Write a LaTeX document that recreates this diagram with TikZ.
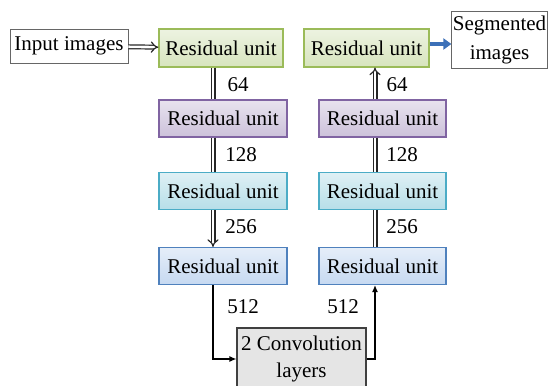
\documentclass[tikz,border=0pt]{standalone}
\usepackage{fontspec}
\setmainfont{Liberation Serif}
\usetikzlibrary{arrows.meta,positioning,calc}
\definecolor{grnfill}{HTML}{D7E4BD}
\definecolor{grnline}{HTML}{9BBB59}
\definecolor{purfill}{HTML}{CCC1DA}
\definecolor{purline}{HTML}{8064A2}
\definecolor{cyafill}{HTML}{B7DEE8}
\definecolor{cyaline}{HTML}{4BACC6}
\definecolor{blufill}{HTML}{C6D9F1}
\definecolor{bluline}{HTML}{4F81BD}
\definecolor{outarrow}{HTML}{3C70B8}
\tikzset
{
    unitnode/.style = {draw, align=center, inner sep=0pt, minimum height=37pt, line width=1.1pt},
    greenunit/.style = {unitnode, draw=grnline, top color=grnfill!45!white, bottom color=grnfill},
    purpleunit/.style = {unitnode, draw=purline, top color=purfill!45!white, bottom color=purfill},
    cyanunit/.style = {unitnode, draw=cyaline, top color=cyafill!45!white, bottom color=cyafill},
    blueunit/.style = {unitnode, draw=bluline, top color=blufill!45!white, bottom color=blufill},
    iobox/.style = {draw=black!60, align=center, inner sep=1pt, line width=0.9pt, fill=white},
    convbox/.style = {draw=black!75, align=center, inner sep=1pt, line width=1.1pt, fill=black!10},
    dblline/.style = {draw=black!85, double=white, double distance=2.6pt, line width=1.2pt},
    chanlabel/.style = {inner sep=0pt}
}

\begin{document}
\begin{tikzpicture}[x=1pt, y=1pt, font=\fontsize{21}{27}\selectfont]
	\useasboundingbox (0,0) rectangle (550,-386);
	% encoder
	\node[iobox, minimum width=118pt, minimum height=34pt] (input) at (69,-46) {Input images};
	\node[greenunit, minimum width=124pt, minimum height=38pt] (enc1) at (221,-48) {Residual unit};
	\node[purpleunit, minimum width=128pt] (enc2) at (223,-118.5) {Residual unit};
	\node[cyanunit, minimum width=128pt] (enc3) at (223,-191) {Residual unit};
	\node[blueunit, minimum width=128pt] (enc4) at (223,-266) {Residual unit};
	% decoder
	\node[greenunit, minimum width=125pt, minimum height=38pt] (dec1) at (366.5,-48) {Residual unit};
	\node[purpleunit, minimum width=127pt] (dec2) at (382.5,-118.5) {Residual unit};
	\node[cyanunit, minimum width=127pt] (dec3) at (382.5,-191) {Residual unit};
	\node[blueunit, minimum width=127pt] (dec4) at (382.5,-266) {Residual unit};
	\node[iobox, minimum width=95pt, minimum height=57pt, font=\fontsize{21}{29}\selectfont] (output) at (499.5,-39.5) {Segmented\\images};
	\node[convbox, minimum width=129pt, minimum height=62pt] (conv) at (301.5,-359) {2 Convolution\\layers};
	\coordinate (encx) at (213,0);
	\coordinate (decx) at (375,0);
	% connectors
	\draw[dblline, -{Implies}] (input) -- (enc1);
	\draw[dblline] (enc1.south -| encx) -- (enc2.north -| encx);
	\draw[dblline] (enc2.south -| encx) -- (enc3.north -| encx);
	\draw[dblline, -{Implies}] (enc3.south -| encx) -- (enc4.north -| encx);
	\draw[dblline] (dec4.north -| decx) -- (dec3.south -| decx);
	\draw[dblline] (dec3.north -| decx) -- (dec2.south -| decx);
	\draw[dblline, -{Implies}] (dec2.north -| decx) -- (dec1.south -| decx);
	\draw[line width=1.2pt, -{Latex[length=7pt, width=6pt]}] (enc4.south -| encx) |- (conv.west);
	\draw[line width=1.2pt, -{Latex[length=7pt, width=6pt]}] (conv.east) -| (dec4.south -| decx);
	\draw[outarrow, line width=4pt, -{Triangle[length=8pt, width=11pt]}] (dec1.east |- 0,-44) -- (output.west |- 0,-44);
	% channel numbers
	\node[chanlabel] (e64) at (238,-85) {64};
	\node[chanlabel] (e128) at (241,-155) {128};
	\node[chanlabel] (e256) at (241,-227) {256};
	\node[chanlabel] (e512) at (243,-307) {512};
	\node[chanlabel] (d64) at (397,-85) {64};
	\node[chanlabel] (d128) at (402,-155) {128};
	\node[chanlabel] (d256) at (402,-227) {256};
	\node[chanlabel] (d512) at (343,-307) {512};
\end{tikzpicture}
\end{document}
